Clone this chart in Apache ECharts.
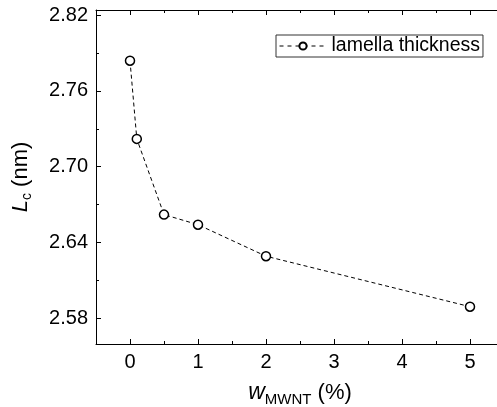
<!DOCTYPE html>
<html>
<head>
<meta charset="utf-8">
<script src="https://cdn.jsdelivr.net/npm/echarts@6/dist/echarts.min.js"></script>
<style>
  html, body { margin: 0; padding: 0; background: #fff; }
  #chart { width: 497px; height: 407px; }
</style>
</head>
<body>
<div id="chart"></div>
<script>
// MWNT weight fraction (%) and measured lamella thickness Lc (nm)
const wMWNT = [0, 0.1, 0.5, 1, 2, 5];
const lamellaThickness = [2.784, 2.722, 2.662, 2.654, 2.629, 2.589];

// axis ticks
const xMajorTicks = [0, 1, 2, 3, 4, 5];
const xMinorTicks = [-0.5, 0.5, 1.5, 2.5, 3.5, 4.5, 5.5];
const yMajorTicks = [2.58, 2.64, 2.70, 2.76, 2.82];
const yMinorTicks = [2.61, 2.67, 2.73, 2.79];

const X_MIN = -0.5, X_MAX = 5.5;
const Y_MIN = 2.5594, Y_MAX = 2.8242;

const FONT = "'Liberation Sans', Arial, sans-serif";
const INK = '#000';

function xAxisDef(position, ticks, len, showLine, showLabels) {
  return {
    type: 'value', position, min: X_MIN, max: X_MAX,
    splitLine: { show: false },
    axisLine: { show: showLine, onZero: false, lineStyle: { color: INK, width: 1 } },
    axisTick: { show: true, inside: true, length: len, customValues: ticks, lineStyle: { color: INK, width: 1 } },
    axisLabel: showLabels
      ? { show: true, customValues: xMajorTicks, margin: 8, color: INK, fontFamily: FONT, fontSize: 20 }
      : { show: false }
  };
}

function yAxisDef(ticks, len, showLine, showLabels, name) {
  const ax = {
    type: 'value', position: 'left', min: Y_MIN, max: Y_MAX,
    splitLine: { show: false },
    axisLine: { show: showLine, onZero: false, lineStyle: { color: INK, width: 1 } },
    axisTick: { show: true, inside: true, length: len, customValues: ticks, lineStyle: { color: INK, width: 1 } },
    axisLabel: showLabels
      ? { show: true, customValues: yMajorTicks, margin: 8, color: INK, fontFamily: FONT, fontSize: 20,
          formatter: v => v.toFixed(2) }
      : { show: false }
  };
  if (name) {
    ax.name = name;
    ax.nameLocation = 'middle';
    ax.nameGap = 62;
    ax.nameTextStyle = {
      color: INK, fontFamily: FONT, fontSize: 22,
      rich: {
        i: { fontFamily: FONT, fontSize: 22, fontStyle: 'italic', color: INK },
        s: { fontFamily: FONT, fontSize: 14, color: INK, padding: [12, 0, 0, 0] },
        n: { fontFamily: FONT, fontSize: 22, color: INK }
      }
    };
  }
  return ax;
}

const xMain = xAxisDef('bottom', xMajorTicks, 5, true, true);
xMain.name = '{i|w}{s|MWNT}{n| (%)}';
xMain.nameLocation = 'middle';
xMain.nameGap = 34;
xMain.nameTextStyle = {
  color: INK, fontFamily: FONT, fontSize: 22,
  rich: {
    i: { fontFamily: FONT, fontSize: 23, fontStyle: 'italic', color: INK },
    s: { fontFamily: FONT, fontSize: 15, color: INK, padding: [14, 0, 0, 0] },
    n: { fontFamily: FONT, fontSize: 22, color: INK }
  }
};

const chart = echarts.init(document.getElementById('chart'), null, { renderer: 'canvas' });
chart.setOption({
  backgroundColor: '#fff',
  animation: false,
  grid: { left: 96, top: 10, right: -7, bottom: 63, containLabel: false, outerBoundsMode: 'none' },
  legend: {
    data: ['lamella thickness'],
    left: 276, top: 35,
    orient: 'horizontal',
    padding: [1, 3, 1, 3],
    borderColor: '#333', borderWidth: 1,
    itemWidth: 47, itemHeight: 9, itemGap: 0,
    lineStyle: { color: INK, width: 1, type: [4, 4] },
    textStyle: { color: INK, fontFamily: FONT, fontSize: 19.5, lineHeight: 20, padding: [0, 0, 0, 0] }
  },
  xAxis: [
    xMain,
    xAxisDef('bottom', xMinorTicks, 3, false, false),
    xAxisDef('top', xMajorTicks, 5, true, false),
    xAxisDef('top', xMinorTicks, 3, false, false)
  ],
  yAxis: [
    yAxisDef(yMajorTicks, 5, true, true, '{i|L}{s|c}{n| (nm)}'),
    yAxisDef(yMinorTicks, 3, false, false)
  ],
  series: [{
    name: 'lamella thickness',
    type: 'line',
    xAxisIndex: 0, yAxisIndex: 0,
    data: wMWNT.map((x, i) => [x, lamellaThickness[i]]),
    symbol: 'circle',
    symbolSize: 9,
    itemStyle: { color: '#fff', borderColor: INK, borderWidth: 1.5 },
    lineStyle: { color: INK, width: 1, type: [4, 3] },
    emphasis: { disabled: true }
  }]
});
</script>
</body>
</html>
